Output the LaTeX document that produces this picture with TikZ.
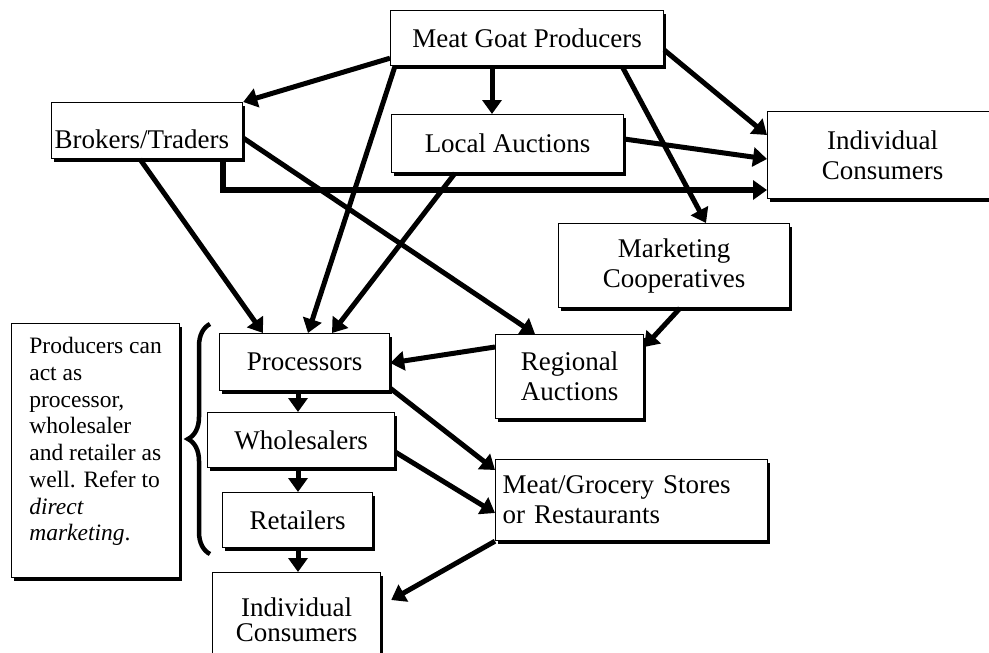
\documentclass[tikz,border=0pt]{standalone}
\usepackage{fontspec}
\setmainfont{Liberation Serif}
\usetikzlibrary{arrows.meta,shadows,decorations.pathreplacing}

\begin{document}
\begin{tikzpicture}[x=1pt,y=-1pt,
  box/.style={draw=black, line width=1.2pt, fill=white, anchor=north west, inner sep=2pt,
    drop shadow={shadow xshift=2.5pt, shadow yshift=-3pt, fill=black, opacity=1},
    font=\fontsize{27}{30}\selectfont, align=center},
  flow/.style={line width=5pt, -{Triangle[length=14pt,width=19pt]}}]

\useasboundingbox (0,0) rectangle (989,653);

\node[box, minimum width=273pt, minimum height=55pt] (prod) at (390,10) {Meat Goat Producers};
\node[box, text width=185pt, align=left, inner xsep=3pt, inner ysep=0pt,
      minimum height=56pt, text height=40pt, text depth=4pt] (brok) at (51,102) {Brokers/Traders};
\node[box, minimum width=232pt, minimum height=58pt] (local) at (391,114) {Local Auctions};
\node[box, minimum width=230pt, minimum height=87pt] (indtop) at (767,111) {Individual\\Consumers};
\node[box, minimum width=231pt, minimum height=84pt] (coop) at (558,223) {Marketing\\Cooperatives};
\node[box, minimum width=148pt, minimum height=84pt] (regional) at (495,334) {Regional\\Auctions};

\node[box, minimum width=170pt, minimum height=57pt] (proc) at (219,333) {Processors};
\node[box, minimum width=187pt, minimum height=55pt] (whole) at (207,412) {Wholesalers};
\node[box, minimum width=150pt, minimum height=55pt] (retail) at (222,492) {Retailers};
\node[box, minimum width=168pt, minimum height=94pt,
      font=\fontsize{27}{25}\selectfont] (indbot) at (212,572) {Individual\\Consumers};
\node[box, text width=258pt, align=left, inner xsep=7pt, minimum height=81pt] (stores) at (495,459)
  {Meat/Grocery Stores\\or Restaurants};

\node[box, minimum width=168pt, minimum height=254pt, align=left,
      font=\fontsize{23.5}{26.7}\selectfont] (note) at (11,323)
  {Producers can\\act as\\processor,\\wholesaler\\and retailer as\\well. Refer to\\\textit{direct}\\\textit{marketing}.\rule[-23pt]{0pt}{1pt}};

% brace round the three middle stages
\draw[line width=4.5pt, decorate, decoration={brace, amplitude=22pt}] (210,554) -- (210,324);

\draw[flow] ([yshift=8pt]prod.south west) -- (brok.north east);
\draw[flow] ([xshift=102pt]prod.south west) -- ([xshift=101pt]local.north west);
\draw[flow] ([xshift=5pt]prod.south west) -- ([xshift=89pt]proc.north west);
\draw[flow] ([yshift=-40pt]prod.north east) -- ([yshift=-24pt]indtop.north west);
\draw[flow] ([xshift=232pt]prod.south west) -- ([xshift=148pt]coop.north west);

\draw[flow] ([yshift=-25pt]local.north east) -- ([yshift=-48pt]indtop.north west);
\draw[flow] ([xshift=64pt]local.south west) -- ([xshift=113pt]proc.north west);

\draw[flow] ([xshift=89pt]brok.south west) -- ([xshift=44pt]proc.north west);
\draw[flow, line width=6pt] ([xshift=172pt]brok.south west) |- ([yshift=-79pt]indtop.north west);
\draw[flow] ([yshift=-36pt]brok.north east) -- ([xshift=40pt]regional.north west);

\draw[flow] ([xshift=122pt]coop.south west) -- ([yshift=-13pt]regional.north east);
\draw[flow] ([yshift=-13pt]regional.north west) -- ([yshift=-30pt]proc.north east);

\draw[flow] ([yshift=3pt]proc.south east) -- ([yshift=-11pt]stores.north west);
\draw[flow] ([yshift=-40pt]whole.north east) -- ([yshift=-54pt]stores.north west);
\draw[flow] (stores.south west) -- ([xshift=10pt,yshift=-28pt]indbot.north east);

\draw[flow] ([xshift=79pt]proc.south west) -- ([xshift=91pt]whole.north west);
\draw[flow] ([xshift=91pt]whole.south west) -- ([xshift=76pt]retail.north west);
\draw[flow] ([xshift=76pt]retail.south west) -- ([xshift=86pt]indbot.north west);

\end{tikzpicture}
\end{document}
